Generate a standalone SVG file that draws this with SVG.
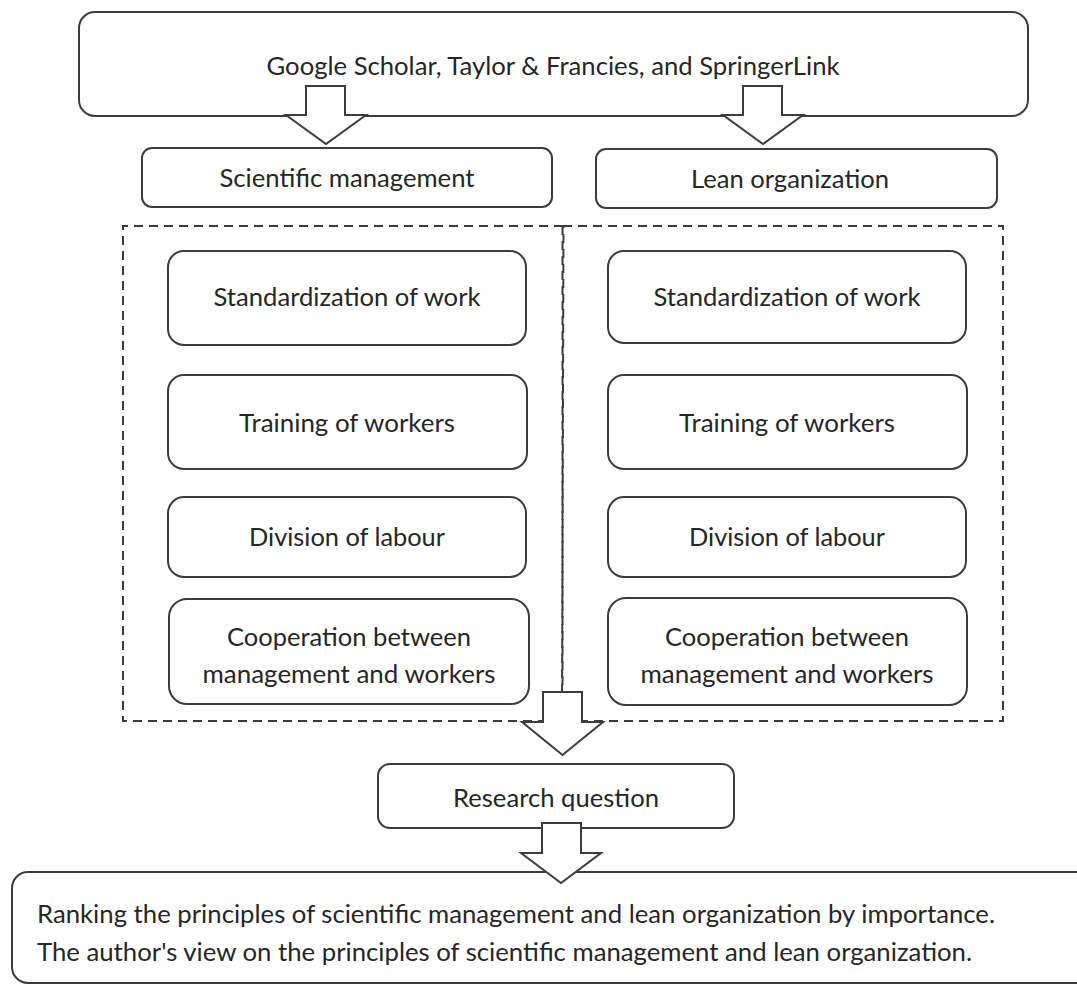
<svg xmlns="http://www.w3.org/2000/svg" width="1077" height="985" viewBox="0 0 1077 985">
<style>
.box{fill:#fff;stroke:#3c3c3c;stroke-width:2}
.dash{fill:none;stroke:#3c3c3c;stroke-width:2;stroke-dasharray:9 6}
.arr{fill:#fff;stroke:#3c3c3c;stroke-width:2;stroke-linejoin:miter}
.t{font-family:Lato,"Liberation Sans",sans-serif;font-size:25px;fill:#262626}
.c{text-anchor:middle}
</style>
<rect width="1077" height="985" fill="#fff"/>
<g id="source">
<rect class="box" x="79" y="12" width="949" height="104" rx="16"/>
<text class="t c" x="553" y="75" textLength="573" lengthAdjust="spacingAndGlyphs">Google Scholar, Taylor &amp; Francies, and SpringerLink</text>
</g>
<g id="sm">
<rect class="box" x="142" y="148" width="410" height="59" rx="10"/>
<text class="t c" x="347" y="187" textLength="255" lengthAdjust="spacingAndGlyphs">Scientific management</text>
</g>
<g id="lean">
<rect class="box" x="596" y="149" width="401" height="59" rx="10"/>
<text class="t c" x="790" y="188" textLength="198" lengthAdjust="spacingAndGlyphs">Lean organization</text>
</g>
<g id="groups">
<path class="dash" d="M563 226 H123 V721 H563"/>
<path class="dash" d="M563 226 H1003 V721 H563"/>
<line class="dash" x1="562.5" y1="226" x2="562.5" y2="721"/>
<line class="dash" x1="563.5" y1="226" x2="562" y2="721" stroke-dashoffset="7"/>
</g>
<g id="sm-standard">
<rect class="box" x="168" y="251" width="358" height="94" rx="16"/>
<text class="t c" x="347" y="306" textLength="267" lengthAdjust="spacingAndGlyphs">Standardization of work</text>
</g>
<g id="sm-training">
<rect class="box" x="168" y="375" width="359" height="94" rx="16"/>
<text class="t c" x="347" y="432" textLength="216" lengthAdjust="spacingAndGlyphs">Training of workers</text>
</g>
<g id="sm-division">
<rect class="box" x="168" y="497" width="358" height="80" rx="16"/>
<text class="t c" x="347" y="546" textLength="196" lengthAdjust="spacingAndGlyphs">Division of labour</text>
</g>
<g id="sm-coop">
<rect class="box" x="169" y="599" width="360" height="105" rx="18"/>
<text class="t c" x="349" y="646" textLength="244" lengthAdjust="spacingAndGlyphs">Cooperation between</text>
<text class="t c" x="349" y="683" textLength="293" lengthAdjust="spacingAndGlyphs">management and workers</text>
</g>
<g id="lo-standard">
<rect class="box" x="608" y="251" width="358" height="92" rx="16"/>
<text class="t c" x="787" y="306" textLength="267" lengthAdjust="spacingAndGlyphs">Standardization of work</text>
</g>
<g id="lo-training">
<rect class="box" x="608" y="375" width="359" height="94" rx="16"/>
<text class="t c" x="787" y="432" textLength="216" lengthAdjust="spacingAndGlyphs">Training of workers</text>
</g>
<g id="lo-division">
<rect class="box" x="608" y="497" width="358" height="80" rx="16"/>
<text class="t c" x="787" y="546" textLength="196" lengthAdjust="spacingAndGlyphs">Division of labour</text>
</g>
<g id="lo-coop">
<rect class="box" x="608" y="598" width="359" height="107" rx="18"/>
<text class="t c" x="787" y="646" textLength="244" lengthAdjust="spacingAndGlyphs">Cooperation between</text>
<text class="t c" x="787" y="683" textLength="293" lengthAdjust="spacingAndGlyphs">management and workers</text>
</g>
<g id="rq">
<rect class="box" x="378" y="764" width="356" height="64" rx="12"/>
<text class="t c" x="556" y="807" textLength="206" lengthAdjust="spacingAndGlyphs">Research question</text>
</g>
<g id="result">
<rect class="box" x="12" y="872" width="1080" height="111" rx="16"/>
<text class="t" x="37" y="923" textLength="958" lengthAdjust="spacingAndGlyphs">Ranking the principles of scientific management and lean organization by importance.</text>
<text class="t" x="37" y="961" textLength="935" lengthAdjust="spacingAndGlyphs">The author's view on the principles of scientific management and lean organization.</text>
</g>
<g id="connectors">
<polygon class="arr" points="306,86 345,86 345,115 366,115 326,144 286,115 306,115"/>
<polygon class="arr" points="743,86 782,86 782,115 803,115 763,144 723,115 743,115"/>
<polygon class="arr" points="543,692 582,692 582,722 603,722 562.5,755 522,722 543,722"/>
<polygon class="arr" points="542,823 581,823 581,853 601,853 561,883 521,853 542,853"/>
</g>
</svg>
